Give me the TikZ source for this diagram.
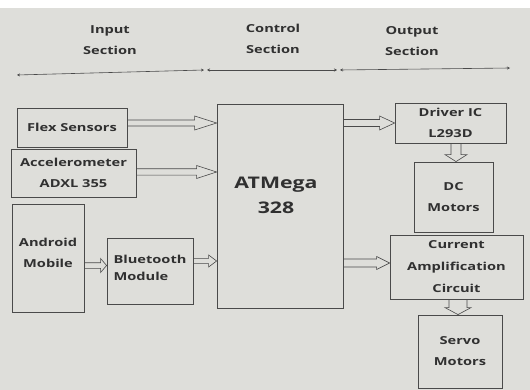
\documentclass[tikz,border=0pt]{standalone}
\usepackage{fontspec}
\setmainfont{Open Sans}[FakeStretch=1.33]
\usetikzlibrary{calc,arrows.meta}
\definecolor{bgc}{HTML}{DEDEDA}
\definecolor{lnc}{HTML}{4A4A4A}
\definecolor{txc}{HTML}{303030}
\newcommand\harr[5]{\draw[hol] let \p1=(#1), \p2=(#2) in (\x1,\y1+#3) -- (\x2-#5,\y1+#3) -- (\x2-#5,\y1+#4) -- (\x2,\y1) -- (\x2-#5,\y1-#4) -- (\x2-#5,\y1-#3) -- (\x1,\y1-#3) -- cycle;}
\newcommand\varr[5]{\draw[hol] let \p1=(#1), \p2=(#2) in (\x1-#3,\y1) -- (\x1-#3,\y2+#5) -- (\x1-#4,\y2+#5) -- (\x1,\y2) -- (\x1+#4,\y2+#5) -- (\x1+#3,\y2+#5) -- (\x1+#3,\y1) -- cycle;}
\begin{document}
\begin{tikzpicture}[x=1pt,y=-1pt,
  blk/.style={draw=lnc, line width=0.8pt, text=txc, inner sep=0pt, align=center,
    font=\bfseries\fontsize{11}{21}\selectfont},
  sect/.style={text=txc, align=center, font=\bfseries\fontsize{11}{21}\selectfont},
  hol/.style={draw=lnc, line width=0.6pt},
  secline/.style={draw=lnc, line width=0.6pt, {Stealth[length=3pt,width=3pt]}-{Stealth[length=3pt,width=3pt]}}]
\fill[bgc] (0,0) rectangle (530,390);
\fill[white] (0,0) rectangle (530,8);
\useasboundingbox (0,0) rectangle (530,390);
% section labels
\node[sect] (inp) at (110,40.5) {Input\\Section};
\node[sect] (ctl) at (273,39) {Control\\Section};
\node[sect] (outp) at (412,41.5) {Output\\Section};
\coordinate (a0) at (17,75);
\coordinate (a1) at (204,70);
\coordinate (a1b) at (207,70);
\coordinate (a2) at (337,70);
\coordinate (a2b) at (340,70);
\coordinate (a3) at (510,68);
\draw[secline] (a0) -- (a1);
\draw[secline] (a1b) -- (a2);
\draw[secline] (a2b) -- (a3);
% blocks
\node[blk, minimum width=110pt, minimum height=39pt] (flex) at (72,127.5) {Flex Sensors};
\node[blk, minimum width=125pt, minimum height=48pt] (acc) at (73.5,173) {Accelerometer\\ADXL 355};
\node[blk, minimum width=72pt, minimum height=108pt] (andr) at (48,258) {};
\node[sect] (andrt) at (48,252.5) {Android\\Mobile};
\node[blk, minimum width=86pt, minimum height=66pt] (bt) at (150,271) {};
\node[sect, align=left, anchor=west, font=\bfseries\fontsize{11}{17}\selectfont] (btt) at (110,267.5) {Bluetooth\\Module};
\node[blk, minimum width=126pt, minimum height=204pt] (atm) at (280,206) {};
\node[sect, font=\bfseries\fontsize{16}{25}\selectfont] (atmt) at (276,195.5) {ATMega\\328};
\node[blk, minimum width=111pt, minimum height=40pt] (drv) at (450.5,123) {Driver IC\\L293D};
\node[blk, minimum width=79pt, minimum height=70pt] (dc) at (453.5,197) {DC\\Motors};
\node[blk, minimum width=133pt, minimum height=64pt, font=\bfseries\fontsize{11}{22}\selectfont] (cur) at (456.5,267) {Current\\Amplification\\Circuit};
\node[blk, minimum width=84pt, minimum height=73pt] (srv) at (460,351.5) {Servo\\Motors};
% hollow arrows
\harr{[yshift=4.5pt]flex.east}{atm.west}{3pt}{7pt}{22pt}
\harr{[yshift=1pt]acc.east}{atm.west}{3.2pt}{6.5pt}{20pt}
\harr{[yshift=-7.5pt]andr.east}{bt.west}{2.8pt}{7pt}{6pt}
\harr{[yshift=10pt]bt.east}{atm.west}{2.6pt}{6pt}{8pt}
\harr{atm.east |- drv.west}{drv.west}{3.5pt}{7pt}{15pt}
\harr{[yshift=4pt]atm.east |- cur.west}{cur.west}{4pt}{6.5pt}{13pt}
\varr{[xshift=5.5pt]drv.south}{dc.north}{5pt}{11pt}{7pt}
\varr{[xshift=1.5pt]cur.south}{srv.north}{9pt}{13pt}{7pt}
\end{tikzpicture}
\end{document}
